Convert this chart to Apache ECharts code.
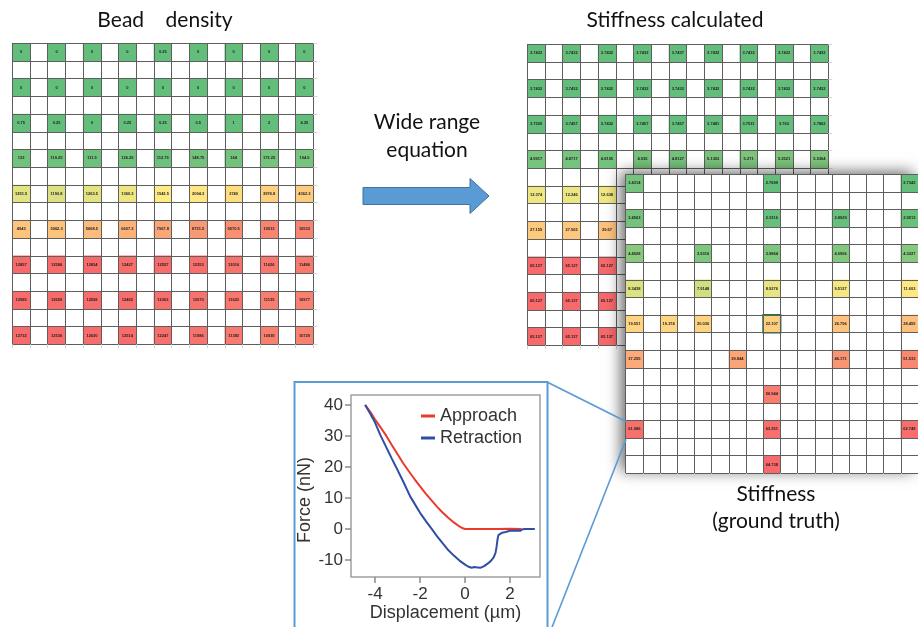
<!DOCTYPE html>
<html><head><meta charset="utf-8">
<script src="https://cdn.jsdelivr.net/npm/echarts@6/dist/echarts.min.js"></script>
<style>html,body{margin:0;padding:0;background:#fff}#c{width:918px;height:627px}</style>
</head><body><div id="c"></div>
<script>
// ---------- DATA ----------
// 17 x 17 spreadsheet cells; values sit in every other cell (even indices)
const gridCells = ['0','1','2','3','4','5','6','7','8','9','10','11','12','13','14','15','16'];

// Bead density (9 x 9 values)
const beadDensity = [
  [0, 0, 0, 0, 0.25, 0, 0, 0, 0],
  [0, 0, 0, 0, 0, 0, 0, 0, 0],
  [0.75, 0.25, 0, 0.25, 0.25, 0.5, 1, 2, 4.25],
  [133, 119.25, 111.5, 126.25, 112.75, 148.75, 164, 173.25, 194.5],
  [1251.5, 1190.8, 1263.5, 1360.3, 1542.5, 2094.3, 2740, 3978.8, 4362.3],
  [4943, 5062.3, 5668.5, 6607.3, 7567.8, 8751.5, 9570.5, 10513, 10533],
  [12857, 12586, 12834, 12427, 12557, 12353, 12016, 11626, 11486],
  [12585, 12659, 12558, 12465, 12363, 12070, 11623, 11135, 10977],
  [12732, 12536, 12630, 12514, 12247, 11986, 11383, 10939, 10729]
];

// Stiffness calculated (cells hidden behind the ground-truth panel are null)
const stiffnessCalculated = [
  [3.7432, 3.7432, 3.7432, 3.7432, 3.7437, 3.7432, 3.7432, 3.7432, 3.7432],
  [3.7432, 3.7432, 3.7432, 3.7432, 3.7432, 3.7432, 3.7432, 3.7432, 3.7432],
  [3.7505, 3.7457, 3.7432, 3.7457, 3.7457, 3.7481, 3.7531, 3.763, 3.7862],
  [4.9917, 4.8717, 4.8195, 4.935, 4.8127, 5.1363, 5.271, 5.3521, 5.5364],
  [12.374, 12.246, 12.638, null, null, null, null, null, null],
  [27.155, 27.565, 29.67, null, null, null, null, null, null],
  [65.127, 65.127, 65.127, null, null, null, null, null, null],
  [65.127, 65.127, 65.127, null, null, null, null, null, null],
  [65.127, 65.127, 65.127, null, null, null, null, null, null]
];

// Stiffness ground truth (sparse)
const stiffnessGroundTruth = [
  [3.4314, null, null, null, 2.7699, null, null, null, 2.7342],
  [3.4563, null, null, null, 2.9116, null, 2.8929, null, 2.9513],
  [4.4928, null, 3.9316, null, 3.9864, null, 4.0956, null, 4.3227],
  [8.3438, null, 7.9148, null, 8.9276, null, 9.5127, null, 11.603],
  [19.551, 19.374, 20.036, null, 22.107, null, 26.796, null, 28.455],
  [37.255, null, null, 39.844, null, null, 46.171, null, 51.533],
  [null, null, null, null, 56.944, null, null, null, null],
  [61.986, null, null, null, 62.251, null, null, null, 62.748],
  [null, null, null, null, 64.738, null, null, null, null]
];

// Force curve (displacement in µm, force in nN)
const approachX = [-4.44, -4.2, -4.0, -3.75, -3.5, -3.25, -3.0, -2.75, -2.5, -2.25, -2.0, -1.75, -1.5, -1.25, -1.0, -0.75, -0.5, -0.25, -0.1, 0, 0.3, 1.0, 1.5, 2.0, 2.5];
const approachF = [40, 37.6, 35.3, 32.7, 30.0, 27.0, 24.1, 21.2, 18.6, 16.1, 13.7, 11.4, 9.3, 7.2, 5.3, 3.6, 2.1, 0.8, 0.2, 0, 0, 0, 0, 0.05, 0];
const retractionX = [-4.44, -4.2, -4.0, -3.78, -3.5, -3.25, -3.07, -2.75, -2.44, -2.2, -2.0, -1.75, -1.5, -1.25, -1.0, -0.75, -0.5, -0.25, 0, 0.15, 0.3, 0.4, 0.55, 0.7, 0.85, 1.0, 1.15, 1.27, 1.35, 1.4, 1.44, 1.48, 1.53, 1.65, 1.8, 1.85, 2.0, 2.2, 2.45, 2.55, 2.7, 3.1];
const retractionF = [40, 37, 34.3, 30.5, 26.3, 22.6, 20, 15.3, 10.5, 7.6, 5.2, 2.6, 0.2, -2.3, -4.6, -6.8, -8.6, -10.2, -11.5, -12.2, -12.5, -12.3, -12.4, -12.5, -12, -11.2, -10.3, -9.2, -7.8, -5.8, -3.5, -2, -1.4, -1.2, -1.0, -0.6, -0.6, -0.5, -0.6, -0.1, 0, 0];
const forceTicks = [-10, 0, 10, 20, 30, 40];
const displacementTicks = [-4, -2, 0, 2];

// ---------- COLOUR SCALE (spreadsheet green-yellow-red) ----------
function scaleColor(v, lo, mid, hi) {
  const G = [99, 190, 123], Y = [255, 235, 132], R = [248, 105, 107];
  let a, b, t;
  if (v <= mid) { a = G; b = Y; t = (v - lo) / (mid - lo); }
  else { a = Y; b = R; t = (v - mid) / (hi - mid); }
  t = Math.max(0, Math.min(1, t));
  return 'rgb(' + a.map((c, i) => Math.round(c + (b[i] - c) * t)).join(',') + ')';
}
function cells(mat, lo, mid, hi, special) {
  const out = [];
  mat.forEach((row, i) => row.forEach((v, j) => {
    if (v === null) return;
    const item = { value: [2 * j, 2 * i, v], itemStyle: { color: scaleColor(v, lo, mid, hi) } };
    if (special && special(i, j)) { item.itemStyle.borderColor = '#217346'; item.itemStyle.borderWidth = 1.5; }
    out.push(item);
  }));
  return out;
}

const FONT = 'Lato, "Open Sans", sans-serif';
const LINE = '#5e5e5e';

function tableAxes(gi, z) {
  return {
    x: {
      type: 'category', gridIndex: gi, data: gridCells, position: 'bottom', z: z,
      axisLine: { show: false }, axisLabel: { show: false },
      axisTick: { show: true, interval: 0, length: 4, lineStyle: { color: '#d4d4d4' } },
      splitLine: { show: true, interval: 0, lineStyle: { color: LINE, width: 1 } }
    },
    y: {
      type: 'category', gridIndex: gi, data: gridCells, inverse: true, position: 'right', z: z,
      axisLine: { show: false }, axisLabel: { show: false },
      axisTick: { show: true, interval: 0, length: 4, lineStyle: { color: '#d4d4d4' } },
      splitLine: { show: true, interval: 0, lineStyle: { color: LINE, width: 1 } }
    }
  };
}
const a0 = tableAxes(0, 3), a1 = tableAxes(1, 3), a2 = tableAxes(2, 13);

const cellLabel = {
  show: true, fontSize: 4, fontWeight: 'bold', color: '#1e1e1e',
  fontFamily: 'Liberation Sans, Arial, sans-serif',
  formatter: p => String(p.value[2])
};

const axisFont = 'Liberation Sans, Arial, Helvetica, sans-serif';

const option = {
  backgroundColor: '#fff',
  animation: false,
  grid: [
    { left: 12.3, top: 43.3, width: 301, height: 301 },
    { left: 527.3, top: 44.3, width: 301, height: 301 },
    { left: 625.7, top: 174.3, width: 299.5, height: 299, show: true, backgroundColor: '#fff', borderWidth: 0,
      shadowBlur: 14, shadowColor: 'rgba(0,0,0,0.6)', shadowOffsetX: -5, shadowOffsetY: -2, z: 10 },
    { left: 351, top: 395, width: 189, height: 182, show: true, backgroundColor: '#fff',
      borderColor: '#a0a0a0', borderWidth: 1.5 }
  ],
  legend: {
    data: ['Approach', 'Retraction'], orient: 'vertical', left: 416, top: 402,
    itemWidth: 14, itemHeight: 3, icon: 'rect', itemGap: 4,
    textStyle: { fontSize: 18, color: '#333', fontFamily: axisFont }
  },
  xAxis: [a0.x, a1.x, a2.x, {
    type: 'value', gridIndex: 3, min: -5.07, max: 3.33,
    axisLine: { show: false, onZero: false }, splitLine: { show: false },
    axisTick: { show: true, customValues: displacementTicks, length: 6, lineStyle: { color: '#8a8a8a', width: 1.5 } },
    axisLabel: { customValues: displacementTicks, fontSize: 17, color: '#333', margin: 9, fontFamily: axisFont },
    name: 'Displacement (µm)', nameLocation: 'middle', nameGap: 25,
    nameTextStyle: { fontSize: 18, color: '#333', fontFamily: axisFont }
  }],
  yAxis: [a0.y, a1.y, a2.y, {
    type: 'value', gridIndex: 3, min: -15.5, max: 43.2,
    axisLine: { show: false, onZero: false }, splitLine: { show: false },
    axisTick: { show: true, customValues: forceTicks, length: 6, lineStyle: { color: '#8a8a8a', width: 1.5 } },
    axisLabel: { customValues: forceTicks, fontSize: 17, color: '#333', margin: 8, fontFamily: axisFont },
    name: 'Force (nN)', nameLocation: 'middle', nameGap: 37,
    nameTextStyle: { fontSize: 18, color: '#333', fontFamily: axisFont, padding: [0, 28, 0, 0] }
  }],
  series: [
    { type: 'heatmap', xAxisIndex: 0, yAxisIndex: 0, z: 2, label: cellLabel,
      data: cells(beadDensity, 0, 1542.5, 12857) },
    { type: 'heatmap', xAxisIndex: 1, yAxisIndex: 1, z: 2, label: cellLabel,
      data: cells(stiffnessCalculated, 3.7432, 13.5, 65.127) },
    { type: 'heatmap', xAxisIndex: 2, yAxisIndex: 2, z: 12, label: cellLabel,
      data: cells(stiffnessGroundTruth, 2.7, 10, 64.738, (i, j) => i === 4 && j === 4) },
    { name: 'Retraction', type: 'line', xAxisIndex: 3, yAxisIndex: 3, symbol: 'none', color: '#2f4ea6',
      lineStyle: { width: 2 }, data: retractionX.map((x, i) => [x, retractionF[i]]) },
    { name: 'Approach', type: 'line', xAxisIndex: 3, yAxisIndex: 3, symbol: 'none', color: '#ea3a2e',
      lineStyle: { width: 2 }, z: 1, data: approachX.map((x, i) => [x, approachF[i]]) }
  ],
  graphic: [
    { type: 'text', x: 165, y: 20, style: { text: 'Bead    density', fontSize: 21, fontFamily: FONT, fill: '#111', textAlign: 'center', textVerticalAlign: 'middle' } },
    { type: 'text', x: 675, y: 20, style: { text: 'Stiffness calculated', fontSize: 21, fontFamily: FONT, fill: '#111', textAlign: 'center', textVerticalAlign: 'middle' } },
    { type: 'text', x: 427, y: 122, style: { text: 'Wide range', fontSize: 21, fontFamily: FONT, fill: '#111', textAlign: 'center', textVerticalAlign: 'middle' } },
    { type: 'text', x: 427, y: 150, style: { text: 'equation', fontSize: 21, fontFamily: FONT, fill: '#111', textAlign: 'center', textVerticalAlign: 'middle' } },
    { type: 'text', x: 776, y: 494, style: { text: 'Stiffness', fontSize: 21, fontFamily: FONT, fill: '#111', textAlign: 'center', textVerticalAlign: 'middle' } },
    { type: 'text', x: 776, y: 521, style: { text: '(ground truth)', fontSize: 21, fontFamily: FONT, fill: '#111', textAlign: 'center', textVerticalAlign: 'middle' } },
    { type: 'polygon', shape: { points: [[363, 187.5], [470, 187.5], [470, 178.5], [489, 196], [470, 213.5], [470, 204.5], [363, 204.5]] },
      style: { fill: '#5b9bd5', stroke: '#41719c', lineWidth: 1 } },
    { type: 'rect', z: 50, shape: { x: 294.5, y: 382, width: 253, height: 300 }, style: { fill: 'none', stroke: '#5b9bd5', lineWidth: 2 } },
    { type: 'line', z: 50, shape: { x1: 547, y1: 382, x2: 626, y2: 421.5 }, style: { stroke: '#5b9bd5', lineWidth: 1.6 } },
    { type: 'line', z: 50, shape: { x1: 626, y1: 439.5, x2: 547, y2: 640 }, style: { stroke: '#5b9bd5', lineWidth: 1.6 } }
  ]
};

const chart = echarts.init(document.getElementById('c'), null, { renderer: 'canvas' });
chart.setOption(option);
</script>
</body></html>
